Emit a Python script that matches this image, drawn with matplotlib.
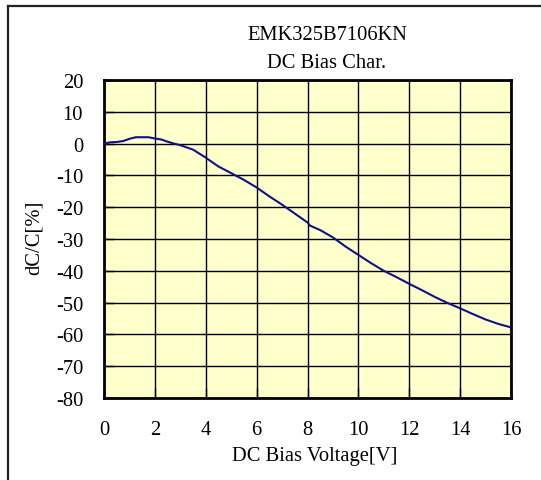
import matplotlib
matplotlib.use("Agg")
import matplotlib.pyplot as plt
from matplotlib.lines import Line2D

plt.rcParams["font.family"] = ["Liberation Serif", "DejaVu Serif"]
plt.rcParams["axes.unicode_minus"] = False

# DC bias characteristic
voltage = [0.0, 0.25, 0.5, 0.75, 1.0, 1.25, 1.5, 1.75, 2.0, 2.25, 2.5, 2.75,
           3.0, 3.5, 4.0, 4.1, 4.5, 5.0, 5.5, 6.0, 6.5, 7.0, 7.5, 8.0, 8.1,
           8.5, 9.0, 9.5, 10.0, 10.5, 11.0, 11.5, 12.0, 12.5, 13.0, 13.5,
           14.0, 14.5, 15.0, 15.5, 16.0]
dcc = [0.0, 0.4, 0.5, 0.8, 1.5, 2.0, 2.0, 2.0, 1.6, 1.3, 0.6, 0.0,
       -0.5, -1.9, -4.4, -5.0, -7.2, -9.3, -11.4, -13.8, -16.6, -19.2, -22.0, -24.8, -25.8,
       -27.2, -29.5, -32.4, -35.0, -37.6, -40.0, -42.0, -44.1, -46.1, -48.2, -50.1,
       -51.8, -53.6, -55.3, -56.7, -57.8]

xticks = list(range(0, 17, 2))
yticks = list(range(-80, 21, 10))

W, H = 541, 481
fig = plt.figure(figsize=(W / 100, H / 100), dpi=100)
ax = fig.add_axes([104 / W, 1 - 399 / H, (511 - 104) / W, (399 - 81) / H])
ax.set_facecolor("#ffffcc")

ax.plot(voltage, dcc, color="#10108a", lw=1.5, zorder=3)

fs = 14.8
ax.set_xlim(0, 16)
ax.set_ylim(-80, 20)
ax.set_xticks(xticks)
ax.set_yticks(yticks)
ax.grid(True, color="black", lw=1.0, zorder=1)
ax.set_axisbelow(True)
ax.tick_params(direction="in", length=7, width=1, labelsize=fs)
ax.tick_params(axis="x", pad=16)
ax.tick_params(axis="y", pad=15)
for s in ax.spines.values():
    s.set_linewidth(2)
    s.set_color("black")

fig.text(327 / W, 1 - 36 / H, "EMK325B7106KN", ha="center", va="center", fontsize=fs)
fig.text(327 / W, 1 - 64 / H, "DC Bias Char.", ha="center", va="center", fontsize=fs)
fig.text(315 / W, 1 - 457 / H, "DC Bias Voltage[V]", ha="center", va="center", fontsize=fs)
fig.text(34 / W, 1 - 238 / H, "dC/C[%]", ha="center", va="center", rotation=90, fontsize=fs)

# outer frame (cut at bottom and right)
fig.add_artist(Line2D([8 / W, 8 / W], [0, 1 - 7 / H], color="#222222", lw=1.6))
fig.add_artist(Line2D([8 / W, 1], [1 - 7 / H, 1 - 7 / H], color="#222222", lw=1.6))

fig.savefig("out.png", dpi=100)
